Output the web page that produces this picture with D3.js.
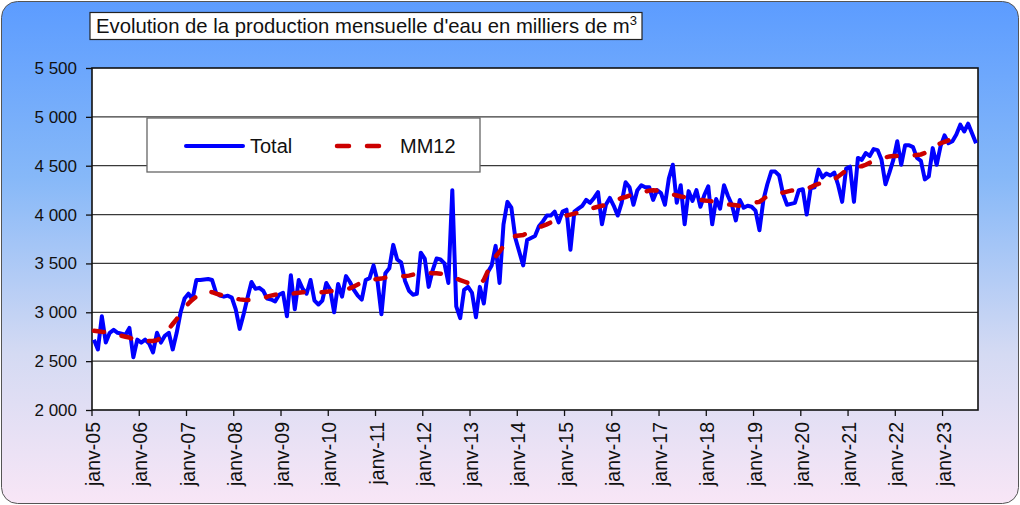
<!DOCTYPE html>
<html>
<head>
<meta charset="utf-8">
<script src="https://cdn.jsdelivr.net/npm/d3@7"></script>
<style>
  body { margin: 0; background: #fff; }
  text { font-family: 'Liberation Sans', Arial, sans-serif; }
</style>
</head>
<body>
<script>
// Production mensuelle d'eau, milliers de m3, janv-05 .. sept-23

const startYear = 2005

const total = [
  2720, 2620, 2960, 2690, 2790, 2820, 2790, 2780, 2770, 2840, 2540, 2720, // 2005
  2690, 2720, 2680, 2590, 2790, 2690, 2760, 2790, 2620, 2790, 3000, 3140, // 2006
  3190, 3130, 3330, 3330, 3335, 3340, 3330, 3200, 3170, 3160, 3170, 3150, // 2007
  3030, 2830, 2980, 3150, 3310, 3240, 3250, 3220, 3140, 3130, 3110, 3180, // 2008
  3200, 2960, 3380, 3030, 3330, 3240, 3190, 3330, 3120, 3080, 3120, 3300, // 2009
  3230, 3000, 3290, 3160, 3370, 3310, 3230, 3170, 3130, 3330, 3350, 3480, // 2010
  3320, 2980, 3400, 3450, 3690, 3540, 3510, 3320, 3220, 3180, 3190, 3610, // 2011
  3550, 3260, 3430, 3550, 3540, 3500, 3300, 4250, 3060, 2940, 3230, 3260, // 2012
  3200, 2950, 3260, 3090, 3410, 3480, 3680, 3300, 3900, 4130, 4070, 3760, // 2013
  3620, 3480, 3740, 3760, 3780, 3880, 3930, 3990, 3990, 4030, 3920, 4030, // 2014
  4050, 3640, 4030, 4060, 4090, 4150, 4120, 4170, 4230, 3900, 4100, 4170, // 2015
  4090, 3990, 4120, 4330, 4280, 4100, 4250, 4300, 4280, 4280, 4150, 4250, // 2016
  4220, 4100, 4370, 4510, 4120, 4300, 3900, 4240, 4140, 4250, 4080, 4200, // 2017
  4290, 3900, 4160, 4060, 4300, 4190, 4100, 3940, 4150, 4070, 4090, 4080, // 2018
  4040, 3840, 4150, 4310, 4440, 4440, 4400, 4210, 4100, 4110, 4120, 4250, // 2019
  4260, 4000, 4270, 4280, 4460, 4380, 4420, 4400, 4430, 4300, 4130, 4470, // 2020
  4490, 4130, 4580, 4560, 4630, 4600, 4670, 4660, 4560, 4310, 4430, 4560, // 2021
  4750, 4510, 4710, 4710, 4690, 4580, 4550, 4360, 4390, 4680, 4510, 4700, // 2022
  4810, 4730, 4750, 4820, 4920, 4850, 4930, 4830, 4730 // 2023
]

const mm12 = [
  2810, 2805, 2800, 2797, 2790, 2780, 2770, 2760, 2750, 2740, 2725, 2715,
  2710, 2705, 2705, 2706, 2715, 2740, 2780, 2830, 2880, 2930, 2990, 3040,
  3090, 3130, 3160, 3190, 3210, 3215, 3205, 3190, 3180, 3170, 3160, 3150,
  3140, 3132, 3128, 3125, 3125, 3130, 3135, 3145, 3160, 3170, 3180, 3185,
  3188, 3190, 3190, 3195, 3200, 3205, 3208, 3205, 3200, 3203, 3205, 3210,
  3215, 3220, 3228, 3232, 3235, 3245, 3265, 3285, 3305, 3320, 3330, 3335,
  3340, 3345, 3355, 3360, 3365, 3368, 3368, 3370, 3375, 3385, 3395, 3400,
  3405, 3405, 3400, 3400, 3395, 3385, 3370, 3355, 3345, 3330, 3315, 3300,
  3285, 3272, 3290, 3330, 3420, 3500, 3570, 3620, 3680, 3730, 3765, 3780,
  3785, 3790, 3810, 3830, 3850, 3870, 3885, 3900, 3920, 3940, 3960, 3980,
  3990, 4000, 4010, 4020, 4035, 4050, 4060, 4070, 4080, 4090, 4100, 4110,
  4130, 4150, 4170, 4180, 4195, 4205, 4215, 4225, 4235, 4245, 4250, 4245,
  4235, 4225, 4215, 4205, 4195, 4185, 4180, 4170, 4160, 4155, 4150, 4145,
  4140, 4135, 4125, 4115, 4110, 4105, 4100, 4095, 4090, 4100, 4110, 4120,
  4125, 4130, 4160, 4190, 4200, 4210, 4215, 4225, 4235, 4245, 4250, 4255,
  4260, 4265, 4280, 4300, 4315, 4325, 4340, 4350, 4360, 4390, 4420, 4450,
  4475, 4485, 4490, 4495, 4510, 4530, 4550, 4565, 4575, 4585, 4595, 4600,
  4600, 4600, 4600, 4600, 4605, 4610, 4615, 4630, 4660, 4690, 4710, 4730,
  4745, 4760
]

const yTicks = [2000, 2500, 3000, 3500, 4000, 4500, 5000, 5500]
const xTickLabels = ['janv-05', 'janv-06', 'janv-07', 'janv-08', 'janv-09', 'janv-10',
  'janv-11', 'janv-12', 'janv-13', 'janv-14', 'janv-15', 'janv-16', 'janv-17',
  'janv-18', 'janv-19', 'janv-20', 'janv-21', 'janv-22', 'janv-23']

const width = 1020, height = 505
const plot = { left: 92, right: 978, top: 68, bottom: 410 }

const svg = d3.select('body').append('svg')
  .attr('width', width)
  .attr('height', height)

// background gradient
const defs = svg.append('defs')
const grad = defs.append('linearGradient')
  .attr('id', 'bg').attr('x1', 0).attr('y1', 0).attr('x2', 0).attr('y2', 1)
grad.append('stop').attr('offset', '0%').attr('stop-color', '#5c9cff')
grad.append('stop').attr('offset', '35%').attr('stop-color', '#86b8f8')
grad.append('stop').attr('offset', '70%').attr('stop-color', '#d4daf3')
grad.append('stop').attr('offset', '100%').attr('stop-color', '#f8e6f6')

svg.append('rect')
  .attr('x', 1.5).attr('y', 1.5)
  .attr('width', width - 3).attr('height', height - 3)
  .attr('rx', 16)
  .attr('fill', 'url(#bg)')
  .attr('stroke', '#555')
  .attr('stroke-width', 1)

const x = d3.scaleLinear().domain([0, total.length]).range([plot.left, plot.right])
const y = d3.scaleLinear().domain([2000, 5500]).range([plot.bottom, plot.top])

// plot area
svg.append('rect')
  .attr('x', plot.left).attr('y', plot.top)
  .attr('width', plot.right - plot.left).attr('height', plot.bottom - plot.top)
  .attr('fill', '#fff')

// gridlines
svg.append('g')
  .selectAll('line')
  .data(yTicks.slice(1, -1))
  .enter()
  .append('line')
  .attr('x1', plot.left).attr('x2', plot.right)
  .attr('y1', d => y(d)).attr('y2', d => y(d))
  .attr('stroke', '#3a3a3a')
  .attr('stroke-width', 1.3)

// y axis
const yAxis = svg.append('g')
  .attr('transform', `translate(${plot.left},0)`)
  .call(d3.axisLeft(y).tickValues(yTicks).tickSize(6).tickPadding(9)
    .tickFormat(d => d3.format(',')(d).replace(',', ' ')))
yAxis.select('.domain').remove()
yAxis.selectAll('line').attr('stroke', '#111').attr('stroke-width', 1.3)
yAxis.selectAll('text')
  .attr('fill', '#111')
  .style('font-size', '17px')
  .style('font-family', "'Liberation Sans', Arial, sans-serif")

// x axis ticks + rotated labels
const xTicks = svg.append('g')
xTicks.selectAll('line')
  .data(xTickLabels)
  .enter()
  .append('line')
  .attr('x1', (d, i) => x(i * 12)).attr('x2', (d, i) => x(i * 12))
  .attr('y1', plot.bottom).attr('y2', plot.bottom + 6)
  .attr('stroke', '#111')
  .attr('stroke-width', 1.3)
xTicks.selectAll('text')
  .data(xTickLabels)
  .enter()
  .append('text')
  .attr('transform', (d, i) => `translate(${x(i * 12) + 1},${plot.bottom + 12}) rotate(-90)`)
  .attr('text-anchor', 'end')
  .attr('dy', '0.36em')
  .attr('fill', '#111')
  .style('font-size', '19.5px')
  .text(d => d)

// plot border
svg.append('rect')
  .attr('x', plot.left).attr('y', plot.top)
  .attr('width', plot.right - plot.left).attr('height', plot.bottom - plot.top)
  .attr('fill', 'none')
  .attr('stroke', '#111')
  .attr('stroke-width', 1.6)

// lines
const line = d3.line()
  .x((d, i) => x(i + 0.5))
  .y(d => y(d))

svg.append('path')
  .datum(total)
  .attr('d', line)
  .attr('fill', 'none')
  .attr('stroke', '#0000ff')
  .attr('stroke-width', 4)
  .attr('stroke-linejoin', 'round')

svg.append('path')
  .datum(mm12)
  .attr('d', line)
  .attr('fill', 'none')
  .attr('stroke', '#cc0000')
  .attr('stroke-width', 4.5)
  .attr('stroke-dasharray', '10,18')
  .attr('stroke-linecap', 'round')

// legend
const legend = svg.append('g')
legend.append('rect')
  .attr('x', 147).attr('y', 118).attr('width', 333).attr('height', 54)
  .attr('fill', '#fff').attr('stroke', '#666').attr('stroke-width', 1.3)
legend.append('line')
  .attr('x1', 186).attr('x2', 243).attr('y1', 146).attr('y2', 146)
  .attr('stroke', '#0000ff').attr('stroke-width', 4).attr('stroke-linecap', 'round')
legend.append('text')
  .attr('x', 250).attr('y', 153)
  .style('font-size', '20px').attr('fill', '#111')
  .text('Total')
legend.append('line')
  .attr('x1', 337).attr('x2', 382).attr('y1', 146).attr('y2', 146)
  .attr('stroke', '#cc0000').attr('stroke-width', 4.5)
  .attr('stroke-dasharray', '12,18').attr('stroke-linecap', 'round')
legend.append('text')
  .attr('x', 400).attr('y', 153)
  .style('font-size', '20px').attr('fill', '#111')
  .text('MM12')

// title
svg.append('rect')
  .attr('x', 90).attr('y', 12.5).attr('width', 552).attr('height', 27)
  .attr('fill', '#fff').attr('stroke', '#222').attr('stroke-width', 1.2)
const title = svg.append('text')
  .attr('x', 96).attr('y', 33)
  .style('font-size', '20.3px').attr('fill', '#111')
title.append('tspan').text("Evolution de la production mensuelle d'eau en milliers de m")
title.append('tspan').attr('dy', -8).style('font-size', '13px').text('3')
</script>
</body>
</html>
